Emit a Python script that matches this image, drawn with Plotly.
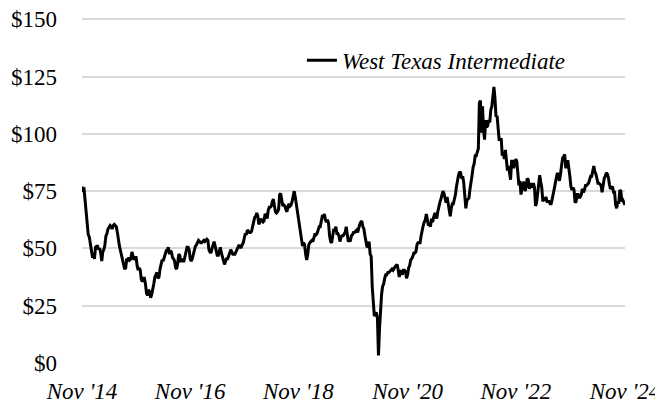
import pandas as pd
import plotly.graph_objects as go

# Weekly West Texas Intermediate spot price (USD/bbl)
wti_2014 = [77.0, 75.5, 75.8, 71.0, 66.0, 60.5, 56.0, 55.0]
wti_2015 = [52.5, 48.5, 46.5, 46.5, 45.5,
            50.5, 51.0, 51.0, 49.5,
            50.0, 48.0, 44.5, 48.5,
            49.5, 51.5, 55.5, 56.5,
            58.5, 59.5, 60.0, 59.5, 58.5,
            60.0, 60.5, 60.0, 59.5,
            57.0, 52.5, 51.0, 49.0, 47.5,
            45.0, 43.0, 41.0, 41.5,
            45.5, 45.0, 46.0, 45.0,
            45.5, 48.5, 46.0, 45.0, 46.0,
            46.0, 42.5, 40.5, 41.5,
            40.5, 36.5, 35.5, 37.0]
wti_2016 = [37.0, 34.5, 30.5, 29.5, 32.0,
            31.0, 28.5, 30.0, 32.0,
            34.5, 37.5, 39.0, 39.5,
            37.0, 37.5, 41.0, 42.5, 45.0,
            44.5, 46.0, 48.0, 49.0,
            49.0, 50.5, 47.5, 49.0,
            48.5, 46.0, 45.5, 44.5, 41.5,
            41.0, 43.5, 47.5, 47.0,
            44.0, 45.5, 44.5, 44.5, 46.5,
            49.5, 50.5, 50.5, 49.5,
            45.5, 44.5, 45.5, 47.5,
            49.5, 51.0, 51.5, 52.5, 53.5]
wti_2017 = [53.0, 52.5, 52.5, 53.0,
            53.5, 53.0, 53.5, 54.0,
            53.5, 49.5, 48.5, 48.0, 50.0,
            51.5, 53.0, 51.0, 49.0,
            47.0, 47.0, 49.5, 50.5,
            48.0, 46.0, 44.5, 43.0, 44.5,
            45.5, 45.5, 46.5, 48.0,
            49.5, 48.5, 47.5, 47.5,
            47.5, 48.5, 49.5, 50.5, 51.5,
            50.5, 50.5, 51.5, 52.5,
            54.5, 56.5, 56.0, 58.0,
            57.5, 57.0, 57.0, 57.5, 59.5]
wti_2018 = [61.5, 63.5, 64.0, 65.5,
            64.0, 60.5, 61.5, 63.0,
            62.0, 61.5, 62.0, 65.0, 64.5,
            63.0, 66.5, 68.0, 68.0,
            68.5, 70.5, 71.5, 68.5,
            66.0, 65.5, 66.0, 67.0, 73.5,
            74.0, 71.0, 68.5, 69.0,
            68.5, 67.0, 66.0, 68.0, 69.5,
            68.5, 69.0, 70.5, 72.5,
            75.0, 72.5, 69.5, 67.0,
            63.5, 60.5, 56.5, 53.0, 51.0,
            52.5, 51.5, 47.5, 45.0]
wti_2019 = [47.5, 51.5, 52.5, 53.0,
            53.5, 53.0, 54.5, 56.5,
            56.0, 56.5, 58.0, 59.5, 59.5,
            62.0, 64.0, 64.0, 65.0,
            62.5, 61.5, 62.5, 61.0, 55.5,
            53.0, 52.5, 55.0, 58.5,
            57.5, 59.5, 56.5, 56.5,
            55.5, 53.0, 55.0, 55.5, 55.5,
            56.5, 57.0, 59.5, 56.5,
            53.0, 53.5, 53.5, 55.5,
            56.0, 57.0, 57.0, 57.5, 58.0,
            57.0, 59.0, 60.5, 61.5]
wti_2020 = [62.0, 59.5, 58.5, 55.5, 52.5,
            50.5, 51.0, 53.0, 47.5,
            46.5, 33.5, 25.5, 20.5,
            21.5, 22.0, 19.5, 3.3,
            15.0, 25.5, 30.0, 33.5, 34.5,
            37.0, 38.5, 38.5, 39.5,
            39.5, 40.0, 40.5, 41.0, 40.5,
            41.5, 42.0, 42.5, 43.0,
            40.5, 37.5, 40.0, 40.0,
            38.5, 40.5, 40.5, 40.0, 37.0,
            38.5, 41.5, 42.5, 45.0,
            45.5, 46.5, 48.0, 48.0]
wti_2021 = [48.5, 51.5, 52.5, 52.5, 52.5,
            55.5, 58.5, 60.0, 61.5,
            62.5, 65.0, 62.0, 60.0,
            60.5, 59.5, 63.0, 61.5, 63.5,
            65.0, 65.0, 63.0, 66.0,
            68.5, 70.0, 71.5, 73.0,
            75.0, 74.0, 72.0, 70.0, 72.5,
            69.5, 68.0, 64.0, 67.5,
            69.5, 69.5, 71.5, 73.5,
            77.0, 80.0, 82.0, 83.5, 83.0,
            80.5, 81.5, 78.5, 73.0,
            67.5, 71.0, 71.5, 72.0, 76.0]
wti_2022 = [78.5, 82.0, 85.5, 87.0,
            90.5, 90.5, 92.0, 93.5,
            113.5, 114.5, 100.5, 112.0,
            102.0, 97.5, 106.0, 103.0, 103.5,
            106.0, 105.0, 110.5, 112.0,
            117.0, 120.5, 115.5, 107.5,
            108.0, 101.0, 97.5, 97.5, 98.0,
            90.5, 92.0, 89.0, 93.0,
            88.5, 84.0, 86.0, 83.5, 80.0,
            88.0, 88.0, 85.0, 86.5,
            89.0, 88.0, 82.5, 77.5,
            79.5, 73.5, 76.0, 78.5, 79.0]
wti_2023 = [75.0, 77.0, 80.5, 80.0,
            76.0, 78.0, 78.0, 76.5,
            78.5, 76.5, 68.5, 70.0, 74.5,
            80.5, 82.0, 79.0, 76.5,
            70.5, 72.0, 71.0, 72.5,
            70.5, 70.5, 70.5, 69.5, 69.5,
            71.5, 75.0, 76.0, 78.5,
            81.5, 83.0, 81.0, 79.5,
            82.5, 86.5, 89.5, 90.0, 91.0,
            85.5, 85.5, 88.5, 85.5,
            81.5, 77.0, 75.5, 76.5,
            75.5, 70.0, 70.5, 73.5, 73.5]
wti_2024 = [72.0, 72.5, 73.5, 76.0,
            74.5, 75.5, 77.5, 77.5,
            78.0, 78.5, 80.0, 81.5, 81.5,
            85.0, 86.0, 83.5, 82.5,
            80.5, 78.5, 78.5, 78.0, 77.5,
            74.5, 78.0, 80.5, 81.5,
            83.0, 82.5, 81.0, 78.0,
            76.0, 76.5, 77.0, 74.5, 74.5,
            69.0, 67.5, 70.5, 69.5,
            75.5, 75.0, 70.5, 71.0,
            70.0, 69.0]

year_series = {
    2014: wti_2014, 2015: wti_2015, 2016: wti_2016, 2017: wti_2017,
    2018: wti_2018, 2019: wti_2019, 2020: wti_2020, 2021: wti_2021,
    2022: wti_2022, 2023: wti_2023, 2024: wti_2024,
}

tick_dates = ["2014-11-07", "2016-11-04", "2018-11-02", "2020-11-06",
              "2022-11-04", "2024-11-08"]
tick_labels = ["Nov '14", "Nov '16", "Nov '18", "Nov '20", "Nov '22", "Nov '24"]
y_ticks = [0, 25, 50, 75, 100, 125, 150]
y_tick_labels = ["$0", "$25", "$50", "$75", "$100", "$125", "$150"]
series_name = "West Texas Intermediate"

dates, prices = [], []
for yr, vals in year_series.items():
    start = "2014-11-07" if yr == 2014 else f"{yr}-01-01"
    d = pd.date_range(start, periods=len(vals), freq="W-FRI")
    dates.extend(d)
    prices.extend(vals)

FONT = "Liberation Serif, Times New Roman, serif"
FS = 23

fig = go.Figure()
fig.add_trace(go.Scatter(
    x=dates, y=prices, mode="lines", name=series_name,
    line=dict(color="#000000", width=3),
))

# page has an 8px body margin, so the figure is sized to fit the window
fig.update_layout(
    width=655, height=401,
    margin=dict(l=74, r=38, t=9, b=46),
    paper_bgcolor="white", plot_bgcolor="white",
    font=dict(family=FONT, size=FS, color="#000000"),
    showlegend=True,
    legend=dict(
        x=0.405, y=0.875, xanchor="left", yanchor="middle",
        bgcolor="rgba(0,0,0,0)",
        font=dict(family=FONT, size=FS, style="italic"),
    ),
    xaxis=dict(
        range=[pd.Timestamp(tick_dates[0]), pd.Timestamp(tick_dates[-1])],
        tickvals=[pd.Timestamp(t) for t in tick_dates],
        ticktext=tick_labels,
        tickfont=dict(family=FONT, size=FS, style="italic"),
        showgrid=False, zeroline=False, showline=False,
        ticks="", ticklabelstandoff=12, automargin=False,
        ticklabeloverflow="allow",
    ),
    yaxis=dict(
        range=[0, 151],
        tickvals=y_ticks, ticktext=y_tick_labels,
        tickfont=dict(family=FONT, size=FS),
        showgrid=True, gridcolor="#d9d9d9", gridwidth=1.5,
        zeroline=False, showline=False, ticks="",
        ticklabelstandoff=24, automargin=False,
        ticklabeloverflow="allow",
    ),
)

fig.write_html("out.html")
